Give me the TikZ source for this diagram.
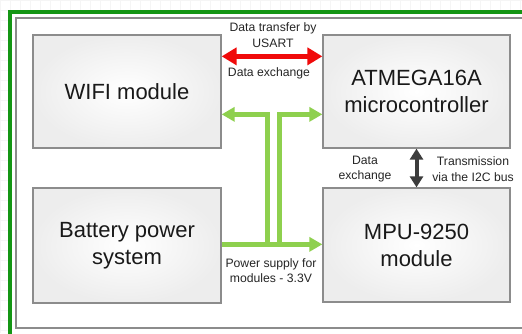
\documentclass[tikz,border=0pt]{standalone}
\usepackage{fontspec}
\setmainfont{Liberation Sans}
\usetikzlibrary{arrows.meta}
\definecolor{frameg}{RGB}{20,150,20}
\definecolor{lightg}{RGB}{142,208,78}
\definecolor{redar}{RGB}{240,10,10}
\definecolor{darkar}{RGB}{60,60,60}
\definecolor{boxedge}{RGB}{140,140,140}
\tikzset{
  blockbox/.style={draw=boxedge, line width=1.3pt, inner color=white, outer color=black!7,
    inner sep=0pt, align=center, font=\fontsize{22}{27}\selectfont, text=black!90},
  lbl/.style={inner sep=0pt, align=center, font=\fontsize{12.2}{15.5}\selectfont, text=black!85},
  redarrow/.style={draw=redar, line width=5pt, {Triangle[width=17pt,length=15pt]}-{Triangle[width=17pt,length=15pt]}},
  greenarrow/.style={draw=lightg, line width=5pt, -{Triangle[width=14pt,length=13pt]}},
  darkarrow/.style={draw=darkar, line width=4pt, {Triangle[width=13pt,length=11pt]}-{Triangle[width=13pt,length=11pt]}}
}
\begin{document}
\begin{tikzpicture}[x=1pt,y=-1pt]
\useasboundingbox (0,0) rectangle (522,333);
\fill[white] (0,0) rectangle (522,333);
\draw[black!4, line width=0.4pt, step=10pt] (0,0) grid (522,333);
\fill[white] (10,12) rectangle (522,333);
% frames
\draw[frameg, line width=3.2pt] (10,340) -- (10,12) -- (530,12);
\draw[black!45, line width=1.6pt] (530,328) -- (16,328) -- (16,18) -- (530,18);
% blocks
\node[blockbox, minimum width=188pt, minimum height=113pt] (wifi) at (127,91.5) {WIFI module};
\node[blockbox, minimum width=187pt, minimum height=113pt] (atm) at (416.5,91.5) {ATMEGA16A\\microcontroller};
\node[blockbox, minimum width=188pt, minimum height=115pt] (bat) at (127,245.5) {Battery power\\system};
\node[blockbox, minimum width=187pt, minimum height=114pt] (mpu) at (416.5,245) {MPU-9250\\module};
% red USART arrow
\draw[redarrow] ([yshift=-22pt]wifi.north east) -- ([yshift=-22pt]atm.north west);
\node[lbl] (usart) at (273,35) {Data transfer by\\USART};
\node[lbl] (dex1) at (269,73.5) {Data exchange};
% green power arrows
\coordinate (gl) at (267,245);
\coordinate (gr) at (279,245);
\draw[greenarrow] (gl) |- ([yshift=-80pt]wifi.north east);
\draw[greenarrow] (gr) |- ([yshift=-80pt]atm.north west);
\draw[greenarrow] ([yshift=-57pt]bat.north east) -- ([yshift=-57pt]mpu.north west);
\node[lbl] (pwr) at (271,270.5) {Power supply for\\modules - 3.3V};
% I2C arrow
\draw[darkarrow] (atm.south) -- (mpu.north);
\node[lbl] (dex2) at (365,169) {Data\\exchange};
\node[lbl] (i2c) at (473,169) {Transmission\\via the I2C bus};
\end{tikzpicture}
\end{document}
